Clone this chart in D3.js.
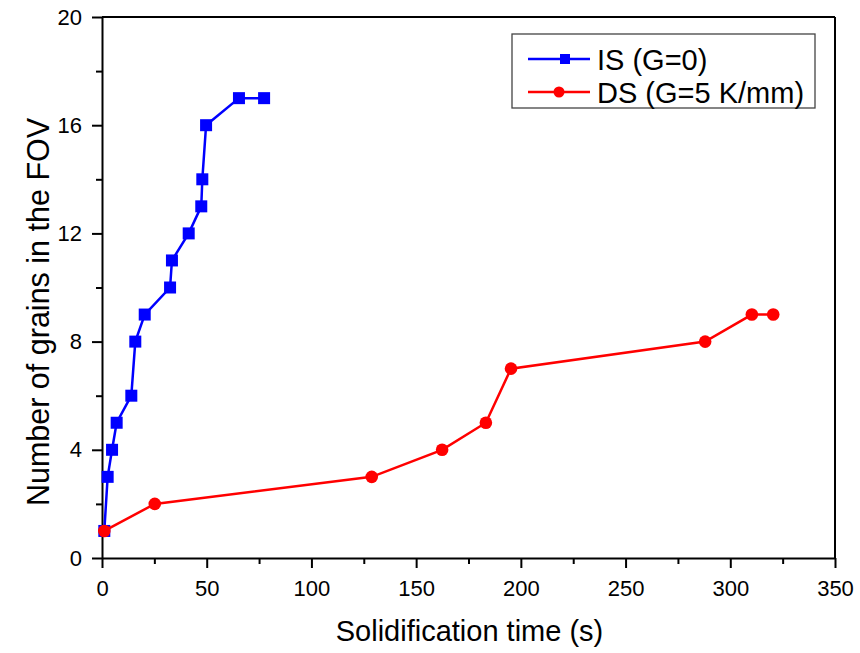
<!DOCTYPE html>
<html>
<head>
<meta charset="utf-8">
<script src="https://cdn.jsdelivr.net/npm/d3@7"></script>
<style>
  body { margin: 0; background: white; }
  text { font-family: "Liberation Sans", Arial, sans-serif; }
</style>
</head>
<body>
<svg id="chart" width="860" height="653"></svg>
<script>
// IS (G=0): isothermal solidification
const isTime = [1.1, 2.7, 4.8, 7.0, 14.0, 15.9, 20.4, 32.5, 33.4, 41.4, 47.4, 47.9, 49.7, 65.4, 77.4];
const isGrains = [1, 3, 4, 5, 6, 8, 9, 10, 11, 12, 13, 14, 16, 17, 17];

// DS (G=5 K/mm): directional solidification
const dsTime = [1.1, 25.2, 128.8, 162.4, 183.3, 195.3, 288.0, 310.3, 320.5];
const dsGrains = [1, 2, 3, 4, 5, 7, 8, 9, 9];

const xTicks = [0, 50, 100, 150, 200, 250, 300, 350];
const xMinor = [25, 75, 125, 175, 225, 275, 325];
const yTicks = [0, 4, 8, 12, 16, 20];
const yMinor = [2, 6, 10, 14, 18];

const legendLabels = ["IS (G=0)", "DS (G=5 K/mm)"];

const margin = { top: 17, left: 102 };
const width = 733;
const height = 541;

const svg = d3.select("#chart");
const g = svg.append("g").attr("transform", `translate(${margin.left},${margin.top})`);

const x = d3.scaleLinear().domain([0, 350]).range([0, width]);
const y = d3.scaleLinear().domain([0, 20]).range([height, 0]);

// frame top + right
g.append("line").attr("x1", 0).attr("x2", width).attr("y1", 0).attr("y2", 0)
  .attr("stroke", "black").attr("stroke-width", 2);
g.append("line").attr("x1", width).attr("x2", width).attr("y1", 0).attr("y2", height)
  .attr("stroke", "black").attr("stroke-width", 2);

// minor ticks
g.append("g").attr("transform", `translate(0,${height})`)
  .call(d3.axisBottom(x).tickValues(xMinor).tickSize(6).tickFormat(""))
  .call(s => s.select(".domain").remove());
g.append("g")
  .call(d3.axisLeft(y).tickValues(yMinor).tickSize(6).tickFormat(""))
  .call(s => s.select(".domain").remove());

// major axes
const xAxis = g.append("g").attr("transform", `translate(0,${height})`)
  .call(d3.axisBottom(x).tickValues(xTicks).tickSize(10).tickSizeOuter(0).tickPadding(12));
const yAxis = g.append("g")
  .call(d3.axisLeft(y).tickValues(yTicks).tickSize(10).tickSizeOuter(0).tickPadding(10));

[xAxis, yAxis].forEach(a => {
  a.selectAll(".domain").attr("stroke-width", 2);
  a.selectAll("text").attr("font-size", 22).attr("fill", "black")
    .attr("font-family", "Liberation Sans, Arial, sans-serif");
});
g.selectAll(".tick line").attr("stroke-width", 2);

// axis titles
svg.append("text").attr("x", margin.left + x(175) + 1).attr("y", 641)
  .attr("text-anchor", "middle").attr("font-size", 29).text("Solidification time (s)");
svg.append("text").attr("transform", "translate(49,312) rotate(-90)")
  .attr("text-anchor", "middle").attr("font-size", 30.5).text("Number of grains in the FOV");

const line = d3.line().x(d => x(d[0])).y(d => y(d[1]));
const isData = isTime.map((t, i) => [t, isGrains[i]]);
const dsData = dsTime.map((t, i) => [t, dsGrains[i]]);

// IS series
g.append("path").datum(isData).attr("fill", "none").attr("stroke", "#0000ff")
  .attr("stroke-width", 2.5).attr("d", line);
g.append("g").attr("fill", "#0000ff").selectAll("rect").data(isData).join("rect")
  .attr("x", d => x(d[0]) - 6).attr("y", d => y(d[1]) - 6)
  .attr("width", 12).attr("height", 12);

// DS series
g.append("path").datum(dsData).attr("fill", "none").attr("stroke", "#ff0000")
  .attr("stroke-width", 2.5).attr("d", line);
g.append("g").attr("fill", "#ff0000").selectAll("circle").data(dsData).join("circle")
  .attr("cx", d => x(d[0])).attr("cy", d => y(d[1])).attr("r", 6.3);

// legend
const lg = svg.append("g");
lg.append("rect").attr("x", 512).attr("y", 34).attr("width", 303).attr("height", 74)
  .attr("fill", "white").attr("stroke", "#444").attr("stroke-width", 1.3);
const rows = [59, 92];
const colors = ["#0000ff", "#ff0000"];
legendLabels.forEach((lab, i) => {
  lg.append("line").attr("x1", 528).attr("x2", 590).attr("y1", rows[i]).attr("y2", rows[i])
    .attr("stroke", colors[i]).attr("stroke-width", 2.5);
  if (i === 0) {
    lg.append("rect").attr("x", 560).attr("y", rows[i] - 5).attr("width", 10).attr("height", 10)
      .attr("fill", colors[i]);
  } else {
    lg.append("circle").attr("cx", 559).attr("cy", rows[i]).attr("r", 5.5).attr("fill", colors[i]);
  }
  lg.append("text").attr("x", 597).attr("y", rows[i] + 10.5).attr("font-size", 29).text(lab);
});
</script>
</body>
</html>
